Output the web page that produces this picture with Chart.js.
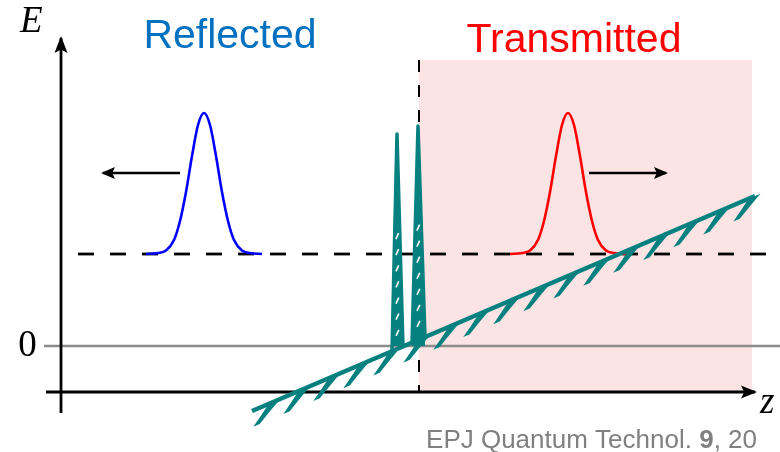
<!DOCTYPE html>
<html>
<head>
<meta charset="utf-8">
<script src="https://cdn.jsdelivr.net/npm/chart.js@4.4.1/dist/chart.umd.min.js"></script>
<style>
  body { margin: 0; background: #fff; }
  canvas { display: block; }
</style>
</head>
<body>
<canvas id="grafica" width="780" height="452"></canvas>
<script>
// Rampa del potencial (z, E)
const rampZ = [-1.67, 3.36];
const rampE = [-0.65, 1.50];

// Las dos barreras estrechas sobre la rampa
const spikeZ = [[-0.27, -0.22, -0.16], [-0.07, -0.01, 0.06]];
const spikeE = [[-0.05, 2.12, -0.01], [0.03, 2.20, 0.09]];

// Energia de la particula
const levelE = 0.92;
const levelZ = [-3.41, 3.61];

// Perfil del paquete: desplazamiento desde el centro y altura sobre el nivel
const packetDz = [-0.58, -0.46, -0.38, -0.30, -0.24, -0.18, -0.12, -0.06, 0, 0.06, 0.12, 0.18, 0.24, 0.30, 0.38, 0.46, 0.58];
const packetH = [0, 0.01, 0.035, 0.14, 0.33, 0.62, 0.98, 1.29, 1.41, 1.29, 0.98, 0.62, 0.33, 0.14, 0.035, 0.01, 0];
const reflectedZ = -2.15;
const transmittedZ = 1.49;

// Flechas de direccion
const arrowLeftZ = [-2.39, -3.16];
const arrowRightZ = [1.70, 2.47];
const arrowE = 1.73;

// Zona transmitida
const regionZ = [0, 3.33];
const regionE = [-0.46, 2.86];

// Ejes
const axisZ = [-3.73, 3.36];
const axisE = [-0.67, 3.08];
const axisAtE = -0.46;
const axisAtZ = -3.58;
const zeroZ = [-3.75, 3.61];

const TEAL = '#078080';

function pts(xs, ys) {
   return xs.map((x, i) => ({ x: x, y: ys[i] }));
}

function paquete(centro) {
   return packetDz.map((d, i) => ({ x: centro + d, y: levelE + packetH[i] }));
}

function rampaEn(z) {
   const t = (z - rampZ[0]) / (rampZ[1] - rampZ[0]);
   return rampE[0] + t * (rampE[1] - rampE[0]);
}

const datasets = [
   // zona rosa
   { data: pts(regionZ, [regionE[1], regionE[1]]), fill: { value: regionE[0] },
     backgroundColor: '#fce4e4', borderWidth: 0, order: 9 },
   // linea de cero
   { data: pts(zeroZ, [0, 0]), borderColor: '#8c8c8c', borderWidth: 2.5, order: 8 },
   // nivel de energia
   { data: pts(levelZ, [levelE, levelE]), borderColor: '#000', borderWidth: 2.8,
     borderDash: [16, 16], order: 7 },
   // separacion vertical
   { data: pts([0, 0], [regionE[1], regionE[0]]), borderColor: '#000', borderWidth: 2,
     borderDash: [12, 13], order: 6 },
   // ejes
   { data: pts(axisZ, [axisAtE, axisAtE]), borderColor: '#000', borderWidth: 2.8,
     flecha: { len: 16, half: 6.5 }, order: 5 },
   { data: pts([axisAtZ, axisAtZ], axisE), borderColor: '#000', borderWidth: 2.8,
     flecha: { len: 17, half: 6.5 }, order: 5 },
   // paquetes
   { data: paquete(reflectedZ), borderColor: '#0000ff', borderWidth: 2.6,
     cubicInterpolationMode: 'monotone', order: 4 },
   { data: paquete(transmittedZ), borderColor: '#ff0000', borderWidth: 2.6,
     cubicInterpolationMode: 'monotone', order: 4 },
   { data: pts(arrowLeftZ, [arrowE, arrowE]), borderColor: '#000', borderWidth: 2.5,
     flecha: { len: 14, half: 6 }, order: 4 },
   { data: pts(arrowRightZ, [arrowE, arrowE]), borderColor: '#000', borderWidth: 2.5,
     flecha: { len: 14, half: 6 }, order: 4 },
   // rampa con rayado
   { data: pts(rampZ, rampE), borderColor: TEAL, borderWidth: 4.5, rayado: true, order: 2 },
   // barreras
   { data: pts(spikeZ[0], spikeE[0]), borderColor: TEAL, backgroundColor: TEAL, fill: 'origin',
     borderWidth: 3.5, borderJoinStyle: 'round', ranura: true, order: 1 },
   { data: pts(spikeZ[1], spikeE[1]), borderColor: TEAL, backgroundColor: TEAL, fill: 'origin',
     borderWidth: 3.5, borderJoinStyle: 'round', ranura: true, order: 1 }
];

// Rayado bajo la rampa y ranuras blancas en las barreras
const rayado = {
   id: 'rayado',
   beforeDatasetDraw(chart, args) {
      const ds = chart.data.datasets[args.index];
      if (!ds.rayado) return;
      const ctx = chart.ctx;
      const sx = chart.scales.x, sy = chart.scales.y;
      const p0 = args.meta.data[0], p1 = args.meta.data[1];
      const L = Math.hypot(p1.x - p0.x, p1.y - p0.y);
      const ux = (p1.x - p0.x) / L, uy = (p1.y - p0.y) / L;
      ctx.save();
      ctx.fillStyle = TEAL;
      for (let z = rampZ[1]; z > rampZ[0] + 0.15; z -= 0.30) {
         const ax = sx.getPixelForValue(z), ay = sy.getPixelForValue(rampaEn(z));
         const dx = -18, dy = 24;
         ctx.beginPath();
         ctx.moveTo(ax - ux * 7, ay - uy * 7);
         ctx.lineTo(ax + ux * 6, ay + uy * 6);
         ctx.quadraticCurveTo(ax + dx * 0.4 + ux * 4, ay + dy * 0.4 + uy * 4,
                              ax + dx + ux * 3, ay + dy + uy * 3);
         ctx.lineTo(ax + dx - ux * 4, ay + dy - uy * 4);
         ctx.quadraticCurveTo(ax + dx * 0.5 - ux * 5, ay + dy * 0.5 - uy * 5,
                              ax - ux * 7, ay - uy * 7);
         ctx.closePath();
         ctx.fill();
      }
      ctx.restore();
   },
   afterDatasetDraw(chart, args) {
      const ds = chart.data.datasets[args.index];
      if (!ds.ranura) return;
      const ctx = chart.ctx;
      const d = args.meta.data;
      const mx = (d[0].x + d[2].x) / 2, my = (d[0].y + d[2].y) / 2;
      ctx.save();
      ctx.strokeStyle = '#fff';
      ctx.lineWidth = 1.6;
      for (let f = 0.08; f < 0.6; f += 0.075) {
         const x = mx + (d[1].x - mx) * f, y = my + (d[1].y - my) * f;
         ctx.beginPath();
         ctx.moveTo(x - 1.4, y + 4);
         ctx.lineTo(x + 1.4, y - 2);
         ctx.stroke();
      }
      ctx.restore();
   }
};

// Puntas de flecha y textos
const decor = {
   id: 'decor',
   afterDraw(chart) {
      const ctx = chart.ctx;
      const sx = chart.scales.x, sy = chart.scales.y;
      ctx.save();
      chart.data.datasets.forEach((ds, i) => {
         if (!ds.flecha) return;
         const d = chart.getDatasetMeta(i).data;
         const a = d[d.length - 2], b = d[d.length - 1];
         const L = Math.hypot(b.x - a.x, b.y - a.y);
         const ux = (b.x - a.x) / L, uy = (b.y - a.y) / L;
         const tx = b.x + ux * 2, ty = b.y + uy * 2;
         const bx = tx - ux * ds.flecha.len, by = ty - uy * ds.flecha.len;
         const nx = -uy, ny = ux, h = ds.flecha.half;
         ctx.fillStyle = '#000';
         ctx.beginPath();
         ctx.moveTo(tx, ty);
         ctx.lineTo(bx + nx * h, by + ny * h);
         ctx.lineTo(tx - ux * ds.flecha.len * 0.8, ty - uy * ds.flecha.len * 0.8);
         ctx.lineTo(bx - nx * h, by - ny * h);
         ctx.closePath();
         ctx.fill();
      });

      ctx.textBaseline = 'alphabetic';
      ctx.textAlign = 'center';
      ctx.font = '41px "Liberation Sans", Arial, sans-serif';
      ctx.fillStyle = '#0070c0';
      ctx.fillText('Reflected', 230, 48);
      ctx.fillStyle = '#ff0000';
      ctx.fillText('Transmitted', 574, 52);

      ctx.fillStyle = '#000';
      ctx.font = 'italic 37px "Liberation Serif", serif';
      ctx.textAlign = 'left';
      ctx.fillText('E', 20, 32);
      ctx.fillText('z', sx.getPixelForValue(axisZ[1]) + 5, sy.getPixelForValue(axisAtE) + 21);
      ctx.font = '37px "Liberation Serif", serif';
      ctx.textAlign = 'center';
      ctx.fillText('0', 27.5, sy.getPixelForValue(0) + 10);

      // referencia
      ctx.fillStyle = '#808080';
      const partes = [
         ['EPJ Quantum Technol. ', '26px "Liberation Sans", Arial, sans-serif'],
         ['9', 'bold 26px "Liberation Sans", Arial, sans-serif'],
         [', 20', '26px "Liberation Sans", Arial, sans-serif']
      ];
      let total = 0;
      partes.forEach(p => { ctx.font = p[1]; total += ctx.measureText(p[0]).width; });
      let x = 757 - total;
      ctx.textAlign = 'left';
      partes.forEach(p => {
         ctx.font = p[1];
         ctx.fillText(p[0], x, 448);
         x += ctx.measureText(p[0]).width;
      });
      ctx.restore();
   }
};

const config = {
   type: 'scatter',
   data: { datasets: datasets.map(ds => Object.assign({ showLine: true, pointRadius: 0, fill: false }, ds)) },
   options: {
      responsive: false,
      devicePixelRatio: 1,
      animation: false,
      events: [],
      layout: { padding: 0 },
      plugins: { legend: { display: false }, tooltip: { enabled: false } },
      scales: {
         x: { type: 'linear', min: -4.19, max: 3.61, display: false },
         y: { type: 'linear', min: -1.06, max: 3.46, display: false }
      }
   },
   plugins: [rayado, decor]
};

const grafica = new Chart(document.getElementById('grafica'), config);
</script>
</body>
</html>
